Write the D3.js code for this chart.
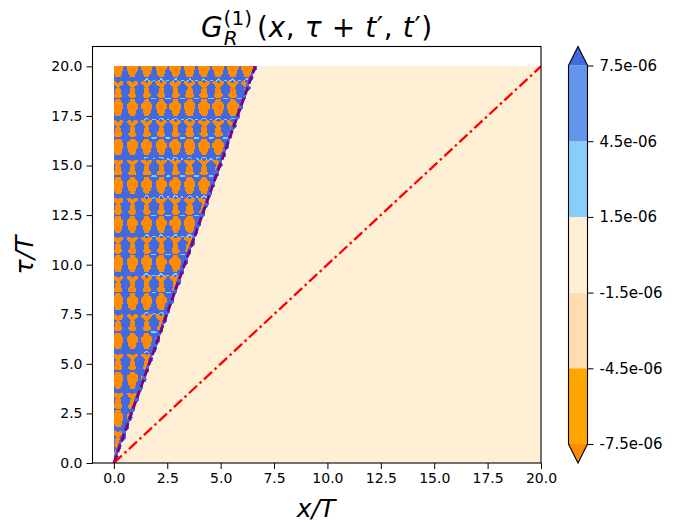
<!DOCTYPE html>
<html>
<head>
<meta charset="utf-8">
<script src="https://cdn.jsdelivr.net/npm/d3@7"></script>
<style>
body { margin: 0; background: #fff; }
text { font-family: "DejaVu Sans", sans-serif; fill: #000; }
</style>
</head>
<body>
<div id="container"></div>
<script>
var tickValues = [0, 2.5, 5, 7.5, 10, 12.5, 15, 17.5, 20];
var levels = [-7.5, -4.5, -1.5, 1.5, 4.5, 7.5];
var levelLabels = ['-7.5e-06', '-4.5e-06', '-1.5e-06', '1.5e-06', '4.5e-06', '7.5e-06'];
var bandColors = ['#ff8c00', '#ffa500', '#ffddb0', '#ffefd5', '#87cefa', '#6495ed', '#4169e1'];

// straight lines, [x, tau] end points
var coneLine = [[0, 0], [6.62, 20]];
var diagonalLine = [[0, 0], [20, 20]];

// one repeat of the interference pattern
// B blue, O orange, c light blue
var patternRows = [
    'BBBBccBBBB',
    'cBBcBBcBBc',
    'BOOOBBOOOB',
    'BOOOOOOOOB',
    'BBOOOOOOBB',
    'BBBOOOOBBB',
    'BBBBOOBBBB',
    'BBBOOOOBBB',
    'BBBOOOOBBB',
    'BBBOOOOBBB',
    'BBBOOOOBBB',
    'BBOOOOOOBB',
    'BBOOOOOOBB',
    'BBBOOOOBBB',
    'ccBBBBBBcc',
    'BBBOOOOBBB',
    'BBBOOOOBBB',
    'BBOOOOOOBB',
    'BOOOOOOOOB',
    'BOOOOOOOOB',
    'BOOOOOOOOB',
    'BOOOOOOOOB',
    'BBOOOOOOBB',
    'BBOOOOOOBB',
    'BBOOOOOOBB',
    'BBBOOOOBBB',
    'BBBOOOOBBB',
    'BBBBBBBBBB'
];
var blueValue = 10;
var orangeValue = -10;
var lightValue = 3;
var patternStart = [0.2, 19.38];
var patternSize = [0.67, 1.96];
var lightSpotsFrom = 1.4;

// how far the blue rim sticks out of the cone along one repeat, in T
var rimBump = [0.14, 0.05, 0.02, 0.08, 0.16, 0.07, 0.02, 0.06];

var gridSize = 400;
var gridMax = 20;

var svg = d3.select('#container').append('svg')
    .attr('width', 689)
    .attr('height', 525);

var xScale = d3.scaleLinear().domain([-1, 20]).range([92.5, 541]);
var yScale = d3.scaleLinear().domain([0, 21]).range([463, 46.5]);
var barScale = d3.scaleLinear().domain([-7.5, 7.5]).range([444, 65.5]);

var bumpAt = d3.interpolateBasisClosed(rimBump);

function wrap(value, size) {
    var rest = value % size;
    return rest < 0 ? rest + size : rest;
}

// share of a given letter around a spot in the pattern, so the blobs come out round
function shareOf(letter, phaseX, phaseT) {
    var rows = patternRows.length;
    var cols = patternRows[0].length;
    var fx = phaseX * cols - 0.5;
    var fy = phaseT * rows - 0.5;
    var c0 = Math.floor(fx);
    var r0 = Math.floor(fy);
    var tx = fx - c0;
    var ty = fy - r0;
    function hit(r, c) {
        return patternRows[(r + rows) % rows][(c + cols) % cols] === letter ? 1 : 0;
    }
    return (1 - ty) * ((1 - tx) * hit(r0, c0) + tx * hit(r0, c0 + 1)) +
        ty * ((1 - tx) * hit(r0 + 1, c0) + tx * hit(r0 + 1, c0 + 1));
}

function fieldAt(x, tau) {
    var phaseT = wrap(patternStart[1] - tau, patternSize[1]) / patternSize[1];
    var edge = tau * coneLine[1][0] / coneLine[1][1];
    if (x > edge + bumpAt(phaseT * 2 % 1)) {
        return 0;
    }
    if (x > edge - 0.1) {
        return blueValue;
    }
    var phaseX = wrap(x - patternStart[0] + patternSize[0] / 2, patternSize[0]) / patternSize[0];
    if (shareOf('O', phaseX, phaseT) > 0.5) {
        return orangeValue;
    }
    if (x >= lightSpotsFrom && shareOf('c', phaseX, phaseT) > 0.45) {
        return lightValue;
    }
    return blueValue;
}

var grid = [];
for (var j = 0; j < gridSize; j++) {
    for (var i = 0; i < gridSize; i++) {
        grid.push(fieldAt((i + 0.5) * gridMax / gridSize, (j + 0.5) * gridMax / gridSize));
    }
}

var contourMaker = d3.contours()
    .size([gridSize, gridSize])
    .smooth(false)
    .thresholds([-100].concat(levels));

var projection = d3.geoTransform({
    point: function (px, py) {
        this.stream.point(xScale(px * gridMax / gridSize), yScale(py * gridMax / gridSize));
    }
});

svg.append('g')
    .selectAll('path')
    .data(contourMaker(grid))
    .enter().append('path')
    .attr('d', d3.geoPath(projection))
    .attr('shape-rendering', 'crispEdges')
    .attr('fill', function (d, i) {
        return bandColors[i];
    });

var clip = svg.append('clipPath').attr('id', 'plot-clip').append('rect')
    .attr('x', xScale(-1))
    .attr('y', yScale(21))
    .attr('width', xScale(20) - xScale(-1))
    .attr('height', yScale(0) - yScale(21));

var lineMaker = d3.line()
    .x(function (d) { return xScale(d[0]); })
    .y(function (d) { return yScale(d[1]); });

svg.append('path')
    .attr('d', lineMaker(coneLine))
    .attr('clip-path', 'url(#plot-clip)')
    .attr('fill', 'none')
    .attr('stroke', '#800080')
    .attr('stroke-width', 2.8)
    .attr('stroke-dasharray', '8,3.5');

svg.append('path')
    .attr('d', lineMaker(diagonalLine))
    .attr('clip-path', 'url(#plot-clip)')
    .attr('fill', 'none')
    .attr('stroke', '#ff0000')
    .attr('stroke-width', 2.3)
    .attr('stroke-dasharray', '11,3.5,2.5,3.5');

function styleAxis(size) {
    return function (g) {
        g.selectAll('text').style('font-size', size);
        g.selectAll('line').attr('stroke', '#000').attr('stroke-width', 1);
        g.select('.domain').remove();
    };
}

var xAxis = d3.axisBottom(xScale).tickValues(tickValues).tickFormat(d3.format('.1f')).tickSize(6).tickPadding(4);
var yAxis = d3.axisLeft(yScale).tickValues(tickValues).tickFormat(d3.format('.1f')).tickSize(6).tickPadding(4);

svg.append('g').attr('transform', 'translate(0,463)').call(xAxis).call(styleAxis('14px'));
svg.append('g').attr('transform', 'translate(92.5,0)').call(yAxis).call(styleAxis('14px'));

svg.append('rect')
    .attr('x', xScale(-1))
    .attr('y', yScale(21))
    .attr('width', xScale(20) - xScale(-1))
    .attr('height', yScale(0) - yScale(21))
    .attr('fill', 'none')
    .attr('stroke', '#000')
    .attr('stroke-width', 1.1);

// colorbar
var barLeft = 568.5;
var barRight = 587.5;
var barTip = 19;
var barEdges = [null].concat(levels, [null]);

for (var k = 0; k < bandColors.length; k++) {
    var low = barEdges[k];
    var high = barEdges[k + 1];
    var shape;
    if (low === null) {
        shape = [[barLeft, barScale(high)], [barRight, barScale(high)], [(barLeft + barRight) / 2, barScale(high) + barTip]];
    } else if (high === null) {
        shape = [[barLeft, barScale(low)], [barRight, barScale(low)], [(barLeft + barRight) / 2, barScale(low) - barTip]];
    } else {
        shape = [[barLeft, barScale(low)], [barRight, barScale(low)], [barRight, barScale(high)], [barLeft, barScale(high)]];
    }
    svg.append('polygon')
        .attr('points', shape.join(' '))
        .attr('fill', bandColors[k]);
}

var barMid = (barLeft + barRight) / 2;
var barOutline = [
    [barLeft, barScale(7.5)], [barMid, barScale(7.5) - barTip], [barRight, barScale(7.5)],
    [barRight, barScale(-7.5)], [barMid, barScale(-7.5) + barTip], [barLeft, barScale(-7.5)]
];
svg.append('polygon')
    .attr('points', barOutline.join(' '))
    .attr('fill', 'none')
    .attr('stroke', '#000')
    .attr('stroke-width', 1.1);

var barAxis = d3.axisRight(barScale)
    .tickValues(levels)
    .tickFormat(function (d, i) { return levelLabels[i]; })
    .tickSize(6)
    .tickPadding(6);
svg.append('g').attr('transform', 'translate(' + barRight + ',0)').call(barAxis).call(styleAxis('15px'));

// title and axis labels
var title = svg.append('text')
    .attr('x', 201)
    .attr('y', 37)
    .style('font-size', '28px');
title.append('tspan').style('font-style', 'italic').text('G');
title.append('tspan').attr('dy', 8).attr('dx', 1).style('font-size', '20px').style('font-style', 'italic').text('R');
title.append('tspan').attr('dy', -20).attr('dx', -14).style('font-size', '20px').text('(1)');
var titleRest = title.append('tspan').attr('dy', 12).attr('dx', 5).style('letter-spacing', '0.6px');
titleRest.append('tspan').text('(');
titleRest.append('tspan').style('font-style', 'italic').text('x');
titleRest.append('tspan').text(', ');
titleRest.append('tspan').style('font-style', 'italic').text('τ');
titleRest.append('tspan').text(' + ');
titleRest.append('tspan').style('font-style', 'italic').text('t');
titleRest.append('tspan').text('′');
titleRest.append('tspan').text(', ');
titleRest.append('tspan').style('font-style', 'italic').text('t');
titleRest.append('tspan').text('′');
titleRest.append('tspan').text(')');

svg.append('text')
    .attr('x', 316)
    .attr('y', 517)
    .attr('text-anchor', 'middle')
    .style('font-size', '25px')
    .style('font-style', 'italic')
    .text('x/T');

svg.append('text')
    .attr('transform', 'translate(33,255) rotate(-90)')
    .attr('text-anchor', 'middle')
    .style('font-size', '25px')
    .style('font-style', 'italic')
    .text('τ/T');
</script>
</body>
</html>
